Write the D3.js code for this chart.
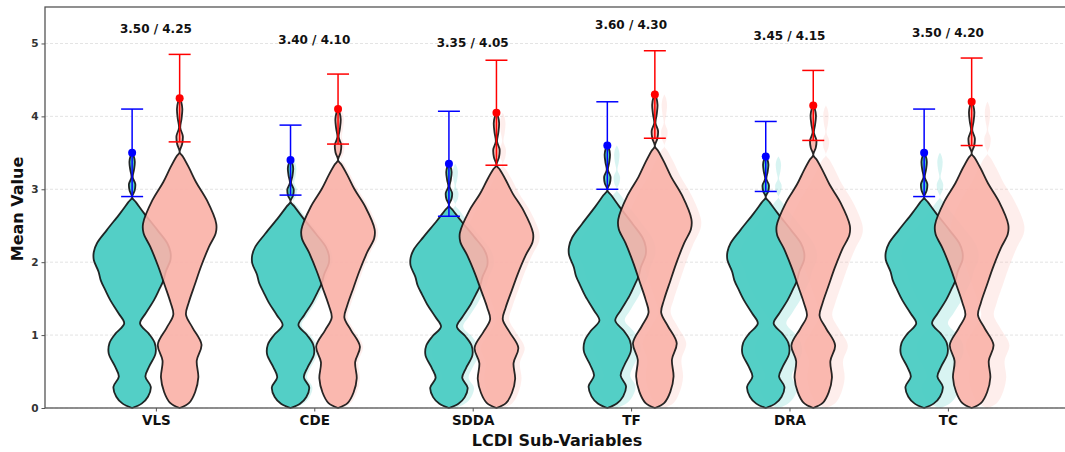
<!DOCTYPE html>
<html lang="en">
<head>
<meta charset="utf-8">
<title>LCDI violins</title>
<script src="https://cdn.jsdelivr.net/npm/d3@7/dist/d3.min.js"></script>
<style>
body { margin: 0; background: #fff; }
svg text { font-family: "DejaVu Sans", sans-serif; }
</style>
</head>
<body>
<script>
// categories and summary values
var categories = ["VLS", "CDE", "SDDA", "TF", "DRA", "TC"];
var meanA = [3.50, 3.40, 3.35, 3.60, 3.45, 3.50];   // teal / blue
var meanB = [4.25, 4.10, 4.05, 4.30, 4.15, 4.20];   // salmon / red
var errA = [0.60, 0.48, 0.72, 0.60, 0.48, 0.60];
var errB = [0.60, 0.48, 0.72, 0.60, 0.48, 0.60];
var topA = [2.89, 2.83, 2.78, 2.99, 2.89, 2.89];    // where the violin body ends
var topB = [3.51, 3.40, 3.33, 3.59, 3.47, 3.49];
var yTicks = [0, 1, 2, 3, 4, 5];

// violin outline: [value, half width]
var profileA = [[0, 0], [0.06, 0.06], [0.155, 0.1], [0.29, 0.118], [0.43, 0.084], [0.57, 0.108],
  [0.75, 0.148], [0.89, 0.143], [1.02, 0.105], [1.16, 0.05], [1.30, 0.086],
  [1.48, 0.138], [1.62, 0.17], [1.75, 0.198], [1.87, 0.212], [2.03, 0.242],
  [2.14, 0.242], [2.26, 0.222], [2.44, 0.16], [2.67, 0.076], [2.82, 0.025], [2.89, 0]];
var profileB = [[0, 0], [0.07, 0.06], [0.22, 0.098], [0.42, 0.118], [0.65, 0.108],
  [0.87, 0.138], [1.10, 0.082], [1.28, 0.04], [1.45, 0.058], [1.70, 0.097],
  [1.94, 0.135], [2.21, 0.185], [2.40, 0.228], [2.53, 0.231], [2.85, 0.172],
  [3.10, 0.103], [3.30, 0.058], [3.45, 0.02], [3.51, 0]];
// thin tail from body top up to the mean: [fraction, half width]
var tail = [[0, 0], [0.15, 0.016], [0.3, 0.02], [0.45, 0.004], [0.62, 0.012],
  [0.8, 0.017], [0.93, 0.01], [1, 0]];

var W = 1065, H = 452;
var svg = d3.select("body").append("svg").attr("width", W).attr("height", H);

var x = d3.scaleLinear().domain([-0.7, 5.75]).range([45, 1066.7]);
var y = d3.scaleLinear().domain([0, 5.5]).range([408, 7]);
var hw = function(v) { return x(v) - x(0); };

// grid
svg.append("g").selectAll("line").data(yTicks).enter().append("line")
  .attr("x1", 45).attr("x2", 1066.7)
  .attr("y1", function(d) { return y(d); }).attr("y2", function(d) { return y(d); })
  .attr("stroke", "#cfcfcf").attr("stroke-width", 0.8)
  .attr("stroke-dasharray", "3,2").attr("opacity", 0.7);

function violinPoints(profile, refTop, top, mean) {
  var body = profile.map(function(p) { return [p[0] * top / refTop, p[1]]; });
  var t = tail.slice(1).map(function(p) { return [top + p[0] * (mean - top), p[1]]; });
  return body.concat(t);
}

function violinPath(cx, pts) {
  return d3.area().curve(d3.curveCatmullRom.alpha(0.5))
    .y(function(d) { return y(d[0]); })
    .x0(function(d) { return cx - hw(d[1]); })
    .x1(function(d) { return cx + hw(d[1]); })(pts);
}

var off = 0.15;
var tealCol = "#4ECDC4", salmonCol = "#F9B1A8";
var ghosts = svg.append("g");
var mainA = svg.append("g");
var mainB = svg.append("g");

categories.forEach(function(c, i) {
  var pa = violinPoints(profileA, 2.89, topA[i], meanA[i]);
  var pb = violinPoints(profileB, 3.51, topB[i], meanB[i]);
  // faint shifted copies
  ghosts.append("path").attr("d", violinPath(x(i * 1.02 - off), pa))
    .attr("fill", tealCol).attr("fill-opacity", 0.22);
  ghosts.append("path").attr("d", violinPath(x(i * 1.02 + off), pb))
    .attr("fill", salmonCol).attr("fill-opacity", 0.22);
  mainA.append("path").attr("d", violinPath(x(i - off), pa))
    .attr("fill", tealCol).attr("fill-opacity", 0.97)
    .attr("stroke", "#111").attr("stroke-width", 1.8).attr("stroke-opacity", 0.9);
  mainB.append("path").attr("d", violinPath(x(i + off), pb))
    .attr("fill", salmonCol).attr("fill-opacity", 0.9)
    .attr("stroke", "#111").attr("stroke-width", 1.8).attr("stroke-opacity", 0.9);
});

// error bars with mean dots
function errorBars(means, errs, dx, color) {
  var g = svg.append("g").attr("stroke", color).attr("stroke-width", 1.5);
  categories.forEach(function(c, i) {
    var cx = x(i + dx);
    g.append("line").attr("x1", cx).attr("x2", cx)
      .attr("y1", y(means[i] - errs[i])).attr("y2", y(means[i] + errs[i]));
    [means[i] - errs[i], means[i] + errs[i]].forEach(function(v) {
      g.append("line").attr("x1", cx - 11).attr("x2", cx + 11)
        .attr("y1", y(v)).attr("y2", y(v));
    });
    g.append("circle").attr("cx", cx).attr("cy", y(means[i])).attr("r", 4)
      .attr("fill", color).attr("stroke", "none");
  });
}
errorBars(meanA, errA, -off, "#0000ff");
errorBars(meanB, errB, off, "#ff0000");

// value labels
svg.append("g").selectAll("text").data(categories).enter().append("text")
  .attr("x", function(d, i) { return x(i); })
  .attr("y", function(d, i) { return y(Math.max(meanA[i], meanB[i]) + 0.95); })
  .attr("text-anchor", "middle").attr("dominant-baseline", "central")
  .attr("font-size", "12px").attr("font-weight", "bold").attr("fill", "#111")
  .text(function(d, i) { return meanA[i].toFixed(2) + " / " + meanB[i].toFixed(2); });

// frame
svg.append("rect").attr("x", 45).attr("y", 7).attr("width", 1066.7 - 45).attr("height", 401)
  .attr("fill", "none").attr("stroke", "#555").attr("stroke-width", 1.3);

// y axis
var gy = svg.append("g").attr("transform", "translate(45,0)")
  .call(d3.axisLeft(y).tickValues(yTicks).tickFormat(d3.format("d")).tickSize(3.5).tickPadding(3));
gy.select(".domain").remove();
gy.selectAll("line").attr("stroke", "#555");
gy.selectAll("text").attr("font-size", "10.5px").attr("font-weight", "bold").attr("fill", "#333")
  .attr("font-family", "DejaVu Sans");

// x axis
var gx = svg.append("g").attr("transform", "translate(0,408)")
  .call(d3.axisBottom(x).tickValues(d3.range(categories.length))
    .tickFormat(function(d) { return categories[d]; }).tickSize(3.5).tickPadding(4));
gx.select(".domain").remove();
gx.selectAll("line").attr("stroke", "#555");
gx.selectAll("text").attr("font-size", "13.5px").attr("font-weight", "bold").attr("fill", "#111")
  .attr("font-family", "DejaVu Sans");

// axis titles
svg.append("text").attr("transform", "translate(17,209) rotate(-90)")
  .attr("text-anchor", "middle").attr("dominant-baseline", "central")
  .attr("font-size", "16px").attr("font-weight", "bold").attr("fill", "#111")
  .text("Mean Value");
svg.append("text").attr("x", 557).attr("y", 440)
  .attr("text-anchor", "middle").attr("dominant-baseline", "central")
  .attr("font-size", "16px").attr("font-weight", "bold").attr("fill", "#111")
  .text("LCDI Sub-Variables");
</script>
</body>
</html>
